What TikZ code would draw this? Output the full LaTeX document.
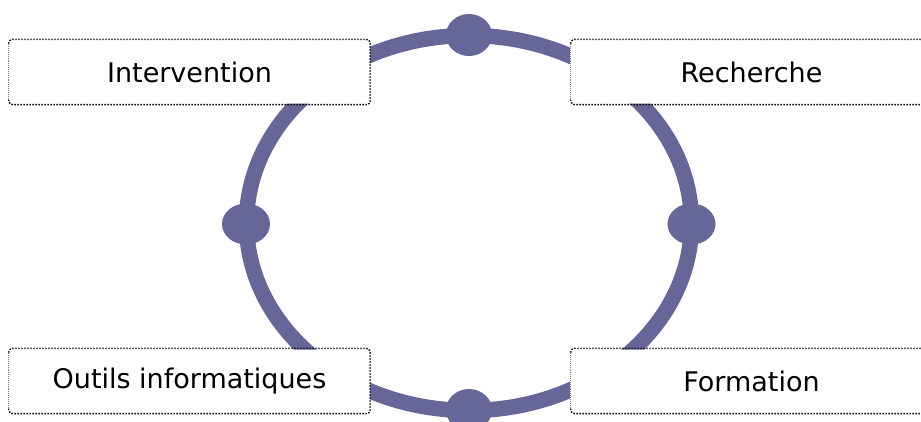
\documentclass[tikz,border=0pt]{standalone}
\usepackage{fontspec}
\setmainfont{DejaVu Sans}
\definecolor{ringcol}{RGB}{102,102,153}
\newcommand{\boxborder}[1]{%
  \draw[boxline] ([yshift=-1pt]#1.south west) rectangle ([yshift=1pt]#1.north east);
  \draw[white, line width=2pt] ([yshift=-4pt]#1.north west) -- ([yshift=4pt]#1.south west);
  \draw[leftline] ([yshift=-4pt]#1.north west) -- ([yshift=4pt]#1.south west);
}
\begin{document}
\begin{tikzpicture}[x=1pt,y=-1pt,
  ring/.style={draw=ringcol, line width=15.5pt},
  knob/.style={fill=ringcol, draw=none},
  box/.style={fill=white, minimum width=361pt, minimum height=63pt, inner sep=0pt,
    rounded corners=4pt, font=\fontsize{27}{32}\selectfont, text=black},
  boxline/.style={draw=black, line width=1.5pt, dash pattern=on 1.4pt off 1.6pt, rounded corners=4pt},
  leftline/.style={draw=gray, line width=0.7pt, dash pattern=on 0.7pt off 1.2pt}]
\useasboundingbox (0,0) rectangle (921,421);
\draw[ring] (469,223) ellipse [x radius=222.5, y radius=187.5];
\fill[knob] (469,35) ellipse [x radius=23, y radius=21];
\fill[knob] (469,410) ellipse [x radius=23, y radius=21];
\fill[knob] (246,224) ellipse [x radius=24, y radius=20.5];
\fill[knob] (691.5,224) ellipse [x radius=24, y radius=20.5];
\node[box] (int) at (189.5,72) {Intervention};
\node[box] (rec) at (751.5,72) {Recherche};
\node[box] (out) at (189.5,381) {Outils informatiques};
\node[box] (for) at (751.5,381) {Formation};
\boxborder{int}
\boxborder{rec}
\boxborder{out}
\boxborder{for}
\end{tikzpicture}
\end{document}
